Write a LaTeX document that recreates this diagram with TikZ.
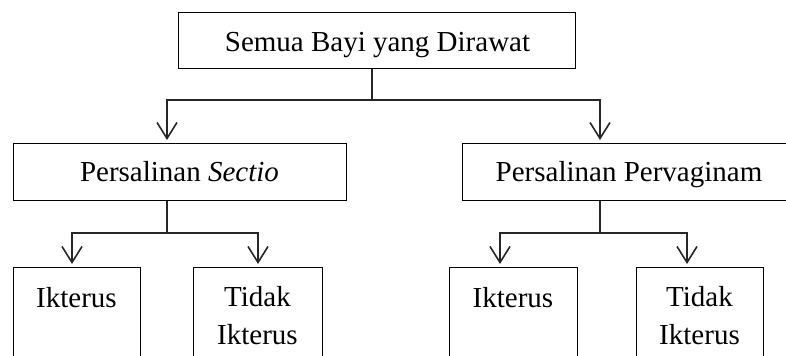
\documentclass[tikz,border=0pt]{standalone}
\usepackage{fontspec}
\setmainfont{Liberation Serif}
\usetikzlibrary{arrows.meta}
\tikzset{
  boxnode/.style={draw=black, line width=0.6pt, rectangle, inner sep=0pt, anchor=north west},
  txt/.style={inner sep=0pt, anchor=base, align=center, font=\fontsize{14.5pt}{19pt}\selectfont},
  conn/.style={draw=black!85, line width=0.9pt},
  arr/.style={conn, -{Straight Barb[length=8pt,width=10pt,line width=0.8pt]}, shorten >=1.5pt}
}
\begin{document}
\begin{tikzpicture}[x=0.5pt,y=-0.5pt]
\useasboundingbox (0,0) rectangle (786,356);
\clip (0,0) rectangle (786,356);
% boxes
\node[boxnode, minimum width=198.5pt, minimum height=28pt] (A) at (178,12) {};
\node[boxnode, minimum width=166.5pt, minimum height=28.5pt] (S) at (13,143) {};
\node[boxnode, minimum width=167pt, minimum height=28.5pt] (P) at (462,143) {};
\node[boxnode, minimum width=63.5pt, minimum height=66.5pt] (SI) at (13,267) {};
\node[boxnode, minimum width=64.5pt, minimum height=66.5pt] (ST) at (193,267) {};
\node[boxnode, minimum width=64pt, minimum height=66.5pt] (PI) at (449,267) {};
\node[boxnode, minimum width=63.5pt, minimum height=66.5pt] (PT) at (636,267) {};
% texts
\node[txt] (tA) at (377.5,52) {Semua Bayi yang Dirawat};
\node[txt] (tS) at (179.5,182) {Persalinan \textit{Sectio}};
\node[txt] (tP) at (629,182) {Persalinan Pervaginam};
\node[txt] (tSI) at (76.5,308) {Ikterus};
\node[txt] (tST) at (257.5,345) {Tidak\\Ikterus};
\node[txt] (tPI) at (513,308) {Ikterus};
\node[txt] (tPT) at (699.5,345) {Tidak\\Ikterus};
% junction coordinates
\coordinate (jA) at (372,100);
\coordinate (xS) at (167,0);
\coordinate (xP) at (600,0);
\coordinate (jS) at (167,233);
\coordinate (jP) at (600,233);
\coordinate (xSI) at (72,0);
\coordinate (xST) at (258,0);
\coordinate (xPI) at (500,0);
\coordinate (xPT) at (687,0);
% connectors
\draw[conn] (A.south -| jA) -- (jA);
\draw[arr] (jA) -| (xS |- S.north);
\draw[arr] (jA) -| (xP |- P.north);
\draw[conn] (S.south -| jS) -- (jS);
\draw[arr] (jS) -| (xSI |- SI.north);
\draw[arr] (jS) -| (xST |- ST.north);
\draw[conn] (P.south -| jP) -- (jP);
\draw[arr] (jP) -| (xPI |- PI.north);
\draw[arr] (jP) -| (xPT |- PT.north);
\end{tikzpicture}
\end{document}
